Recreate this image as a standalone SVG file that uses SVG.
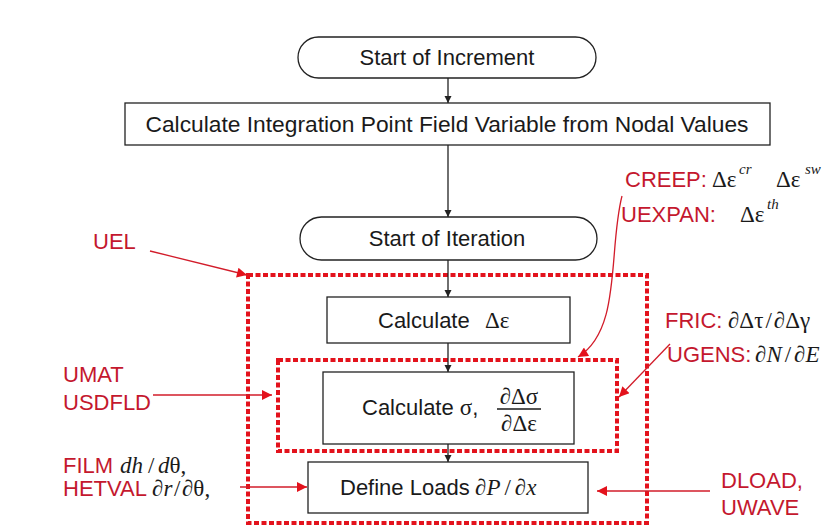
<svg xmlns="http://www.w3.org/2000/svg" width="836" height="529" viewBox="0 0 836 529">
<style>
.box{fill:#fff;stroke:#222;stroke-width:1.3}
.t{font-family:"Liberation Sans",Arial,sans-serif;font-size:22px;fill:#1a1a1a}
.lab{font-family:"Liberation Sans",Arial,sans-serif;font-size:22px;fill:#c4182e}
.m{font-family:"Liberation Serif","Times New Roman",serif;font-size:23px;fill:#1a1a1a}
.i{font-style:italic}
.sup{font-family:"Liberation Serif","Times New Roman",serif;font-style:italic;font-size:15px;fill:#1a1a1a}
.dash{fill:none;stroke:#e3121c;stroke-width:4;stroke-dasharray:5 2.5}
.blk{fill:none;stroke:#222;stroke-width:1.3;marker-end:url(#ah)}
.red{fill:none;stroke:#d21c2a;stroke-width:1.3;marker-end:url(#rh)}
</style>
<defs>
<marker id="ah" viewBox="0 0 10 10" refX="10" refY="5" markerWidth="7" markerHeight="9" markerUnits="userSpaceOnUse" orient="auto"><path d="M0,0 L10,5 L0,10 z" fill="#222"/></marker>
<marker id="rh" viewBox="0 0 10 10" refX="10" refY="5" markerWidth="14" markerHeight="10" markerUnits="userSpaceOnUse" orient="auto"><path d="M0,0 L10,5 L0,10 z" fill="#e3121c"/></marker>
</defs>
<rect width="836" height="529" fill="#fff"/>

<g id="uel-region"><rect class="dash" x="248" y="275" width="399" height="248"/></g>
<g id="umat-region"><rect class="dash" x="278" y="360" width="339" height="91"/></g>

<g id="start-increment">
<rect class="box" x="298" y="37" width="298" height="41" rx="20.5"/>
<text class="t" x="447" y="65" text-anchor="middle">Start of Increment</text>
</g>
<g id="calc-field">
<rect class="box" x="125" y="103" width="645" height="42"/>
<text class="t" x="447" y="132" text-anchor="middle" textLength="603" lengthAdjust="spacingAndGlyphs">Calculate Integration Point Field Variable from Nodal Values</text>
</g>
<g id="start-iteration">
<rect class="box" x="300" y="217" width="297" height="43" rx="21.5"/>
<text class="t" x="447" y="246" text-anchor="middle">Start of Iteration</text>
</g>
<g id="calc-deps">
<rect class="box" x="327" y="297" width="243" height="46"/>
<text class="t" x="378" y="328">Calculate</text>
<text class="m" x="485" y="328">Δε</text>
</g>
<g id="calc-sigma">
<rect class="box" x="323" y="372" width="251" height="72"/>
<text class="t" x="362" y="415">Calculate <tspan class="m">σ</tspan>,</text>
<text class="m" x="519" y="404" text-anchor="middle" font-size="21">∂Δσ</text>
<line x1="497" y1="409" x2="541" y2="409" stroke="#1a1a1a" stroke-width="1.3"/>
<text class="m" x="519" y="431" text-anchor="middle" font-size="21">∂Δε</text>
</g>
<g id="define-loads">
<rect class="box" x="308" y="462" width="280" height="51"/>
<text class="t" x="340" y="495">Define Loads</text>
<text class="m" x="475" y="495" font-size="24">∂<tspan class="i">P</tspan><tspan dx="4">/</tspan><tspan dx="4">∂</tspan><tspan class="i">x</tspan></text>
</g>

<g id="label-uel"><text class="lab" x="93" y="249">UEL</text></g>
<g id="label-umat"><text class="lab" x="63" y="382">UMAT</text><text class="lab" x="63" y="410">USDFLD</text></g>
<g id="label-film">
<text class="lab" x="63" y="473">FILM</text>
<text class="m" x="120" y="473" font-size="24"><tspan class="i">dh</tspan><tspan x="148">/</tspan><tspan x="158" class="i">d</tspan>θ,</text>
<text class="lab" x="63" y="496">HETVAL</text>
<text class="m" x="152" y="496" font-size="24">∂<tspan class="i">r</tspan><tspan x="174">/</tspan><tspan x="182">∂θ,</tspan></text>
</g>
<g id="label-dload"><text class="lab" x="721" y="488">DLOAD,</text><text class="lab" x="721" y="515">UWAVE</text></g>
<g id="label-creep">
<text class="lab" x="625" y="187">CREEP:</text>
<text class="m" x="712" y="187">Δε</text><text class="sup" x="739" y="174">cr</text>
<text class="m" x="776" y="187">Δε</text><text class="sup" x="805" y="174">sw</text>
<text class="lab" x="621" y="222">UEXPAN:</text>
<text class="m" x="740" y="222">Δε</text><text class="sup" x="767" y="209">th</text>
</g>
<g id="label-fric">
<text class="lab" x="665" y="328">FRIC:</text>
<text class="m" x="728" y="328">∂Δτ<tspan dx="2">/</tspan><tspan dx="2">∂Δγ</tspan></text>
<text class="lab" x="667" y="362">UGENS:</text>
<text class="m" x="755" y="362">∂<tspan class="i">N</tspan><tspan dx="3">/</tspan><tspan dx="3">∂</tspan><tspan class="i">E</tspan></text>
</g>

<g id="connectors">
<line class="blk" x1="448" y1="78" x2="448" y2="103"/>
<line class="blk" x1="448" y1="145" x2="448" y2="217"/>
<line class="blk" x1="448" y1="260" x2="448" y2="297"/>
<line class="blk" x1="448" y1="343" x2="448" y2="372"/>
<line class="blk" x1="448" y1="444" x2="448" y2="462"/>
<line class="red" x1="150" y1="251" x2="247" y2="275"/>
<line class="red" x1="153" y1="395" x2="272" y2="395"/>
<line class="red" x1="240" y1="487" x2="307" y2="487"/>
<line class="red" x1="710" y1="491" x2="597" y2="491"/>
<path class="red" d="M622,196 C608,250 622,330 578,357"/>
<line class="red" x1="670" y1="344" x2="619" y2="397"/>
</g>
</svg>
